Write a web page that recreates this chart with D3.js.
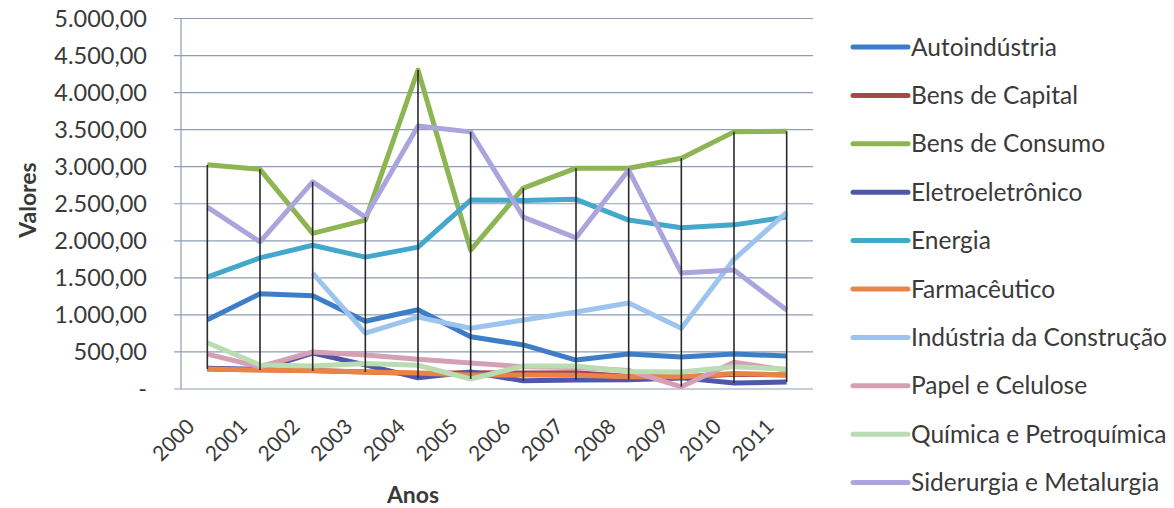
<!DOCTYPE html>
<html>
<head>
<meta charset="utf-8">
<script src="https://cdn.jsdelivr.net/npm/d3@7"></script>
<style>
  html, body { margin: 0; padding: 0; background: #ffffff; }
  svg { display: block; }
  text { font-family: Lato, "Open Sans", sans-serif; fill: #3a3a3a; }
</style>
</head>
<body>
<svg id="chart" width="1174" height="508"></svg>
<script>
// Categories (years)
const anos = ["2000","2001","2002","2003","2004","2005","2006","2007","2008","2009","2010","2011"];

// Series values per sector (null = no data for that year)
const autoindustria      = [935, 1285, 1260, 915, 1070, 705, 595, 390, 472, 432, 472, 445];
const bensCapital        = [270, 260, 250, 230, 210, 220, 215, 220, 170, 160, 200, 190];
const bensConsumo        = [3025, 2965, 2100, 2280, 4305, 1875, 2710, 2980, 2980, 3115, 3470, 3480];
const eletroeletronico   = [280, 265, 485, 325, 150, 230, 110, 120, 125, 150, 80, 95];
const energia            = [1510, 1770, 1940, 1780, 1915, 2550, 2545, 2560, 2280, 2175, 2215, 2320];
const farmaceutico       = [270, 255, 245, 230, 215, 190, 190, 185, 165, 165, 210, 190];
const industriaConstrucao= [null, null, 1565, 755, 970, 820, 930, 1040, 1160, 820, 1750, 2385];
const papelCelulose      = [470, 300, 500, 460, 400, 350, 300, 290, 250, 30, 360, 255];
const quimica            = [625, 325, 310, 345, 320, 135, 310, 310, 235, 230, 300, 270];
const siderurgia         = [2455, 1985, 2795, 2320, 3550, 3470, 2320, 2040, 2955, 1565, 1605, 1065];

// Y axis tick values and their labels
const yTicks = [0, 500, 1000, 1500, 2000, 2500, 3000, 3500, 4000, 4500, 5000];
const yTickLabels = ["-", "500,00", "1.000,00", "1.500,00", "2.000,00", "2.500,00",
                     "3.000,00", "3.500,00", "4.000,00", "4.500,00", "5.000,00"];

const seriesNames = ["Autoindústria", "Bens de Capital", "Bens de Consumo", "Eletroeletrônico",
  "Energia", "Farmacêutico", "Indústria da Construção", "Papel e Celulose",
  "Química e Petroquímica", "Siderurgia e Metalurgia"];
const seriesValues = [autoindustria, bensCapital, bensConsumo, eletroeletronico, energia,
  farmaceutico, industriaConstrucao, papelCelulose, quimica, siderurgia];
const seriesColors = ["#3d7ec6", "#a8474a", "#8db552", "#4f57aa", "#44a7cc",
  "#ea8446", "#9cc4ee", "#d5a0b6", "#b9dcb2", "#aaa6dd"];

const series = seriesNames.map((name, i) => ({
  name, color: seriesColors[i],
  values: seriesValues[i].map((v, j) => ({ year: anos[j], value: v }))
}));

const svg = d3.select("#chart");
const plot = { left: 181, right: 813, top: 18.5, bottom: 389 };
const labelFont = 23.5;

const x = d3.scalePoint().domain(anos).range([plot.left, plot.right]).padding(0.5);
const y = d3.scaleLinear().domain([0, 5000]).range([plot.bottom, plot.top]);

// Horizontal gridlines
svg.append("g")
  .selectAll("line")
  .data(yTicks)
  .join("line")
  .attr("x1", plot.left - 7).attr("x2", plot.right)
  .attr("y1", d => y(d)).attr("y2", d => y(d))
  .attr("stroke", "#8e9bb8").attr("stroke-width", 1.2);

// Value axis line
svg.append("line")
  .attr("x1", plot.left).attr("x2", plot.left)
  .attr("y1", plot.top).attr("y2", plot.bottom)
  .attr("stroke", "#8e9bb8").attr("stroke-width", 1.2);

// Y tick labels
const yAxis = d3.axisLeft(y).tickValues(yTicks)
  .tickFormat((d, i) => yTickLabels[i]).tickSize(0).tickPadding(0);
const gy = svg.append("g").attr("transform", `translate(${plot.left - 34},0)`).call(yAxis);
gy.select(".domain").remove();
gy.selectAll("text")
  .attr("font-family", "Lato, 'Open Sans', sans-serif")
  .attr("font-size", labelFont).attr("fill", "#3a3a3a");

// X tick labels, rotated
const xAxis = d3.axisBottom(x).tickSize(0).tickPadding(0);
const gx = svg.append("g").attr("transform", `translate(0,${plot.bottom})`).call(xAxis);
gx.select(".domain").remove();
gx.selectAll("text")
  .attr("font-family", "Lato, 'Open Sans', sans-serif")
  .attr("font-size", 21).attr("fill", "#3a3a3a")
  .attr("text-anchor", "end")
  .attr("dy", null)
  .attr("y", null)
  .attr("transform", "translate(-12,39) rotate(-45)");

// Series lines
const line = d3.line()
  .defined(d => d.value !== null)
  .x(d => x(d.year))
  .y(d => y(d.value));

svg.append("g")
  .selectAll("path")
  .data(series)
  .join("path")
  .attr("fill", "none")
  .attr("stroke", d => d.color)
  .attr("stroke-width", 5)
  .attr("stroke-linejoin", "round")
  .attr("d", d => line(d.values));

// High-low lines across all series for each year
const highLow = anos.map((yr, j) => {
  const vals = seriesValues.map(s => s[j]).filter(v => v !== null);
  return { year: yr, lo: d3.min(vals), hi: d3.max(vals) };
});
svg.append("g")
  .selectAll("line")
  .data(highLow)
  .join("line")
  .attr("x1", d => x(d.year)).attr("x2", d => x(d.year))
  .attr("y1", d => y(d.hi)).attr("y2", d => y(d.lo))
  .attr("stroke", "#2a2a2a").attr("stroke-width", 1.6);

// Axis titles
svg.append("text")
  .attr("x", 413).attr("y", 503)
  .attr("text-anchor", "middle")
  .attr("font-size", 23).attr("font-weight", "bold")
  .text("Anos");

svg.append("text")
  .attr("transform", "translate(36,200) rotate(-90)")
  .attr("text-anchor", "middle")
  .attr("font-size", 23).attr("font-weight", "bold")
  .text("Valores");

// Legend
const legend = svg.append("g")
  .selectAll("g")
  .data(series)
  .join("g")
  .attr("transform", (d, i) => `translate(853,${47 + i * 48.4})`);
legend.append("line")
  .attr("x1", 0).attr("x2", 55)
  .attr("stroke", d => d.color).attr("stroke-width", 5)
  .attr("stroke-linecap", "round");
legend.append("text")
  .attr("x", 58).attr("dy", "0.35em")
  .attr("font-size", 24.5)
  .text(d => d.name);
</script>
</body>
</html>
